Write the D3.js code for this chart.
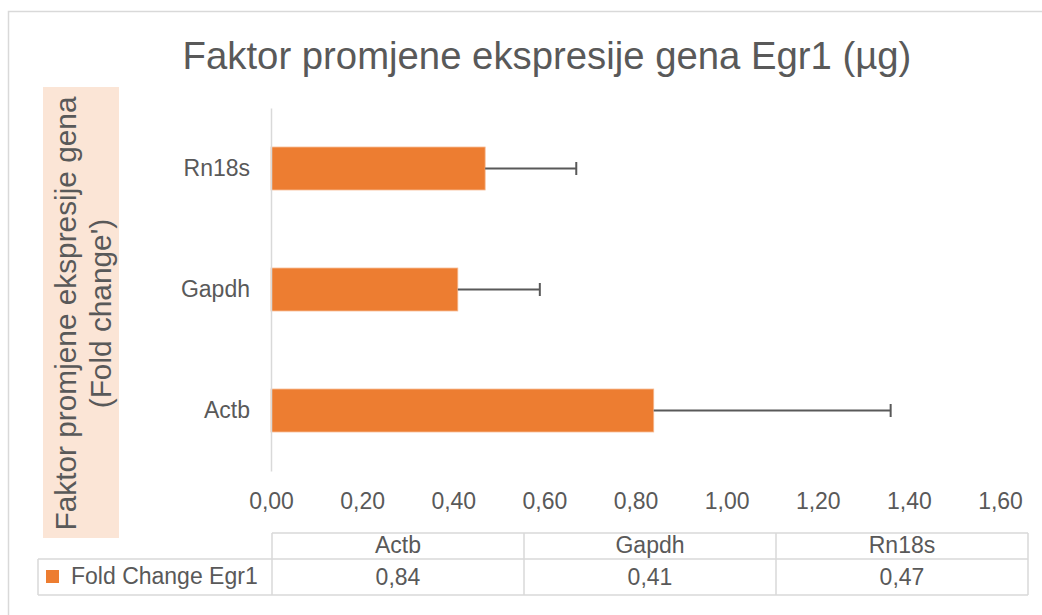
<!DOCTYPE html>
<html>
<head>
<meta charset="utf-8">
<script src="https://cdn.jsdelivr.net/npm/d3@7"></script>
<style>
  body { margin: 0; background: #fff; }
  svg { display: block; font-family: "Liberation Sans", Arial, sans-serif; }
</style>
</head>
<body>
<svg id="chart" width="1042" height="615"></svg>
<script>
// data
const categories = ["Actb", "Gapdh", "Rn18s"];
const foldChange = [0.84, 0.41, 0.47];
const errorPlus = [0.52, 0.18, 0.20];
const xTicks = [0, 0.2, 0.4, 0.6, 0.8, 1.0, 1.2, 1.4, 1.6];
const seriesName = "Fold Change Egr1";
const titleText = "Faktor promjene ekspresije gena Egr1 (µg)";
const yLabelLines = ["Faktor promjene ekspresije gena", "(Fold change')"];

const width = 1042;
const height = 615;
const textColor = "#595959";
const gridColor = "#d9d9d9";
const barColor = "#ed7d31";

const svg = d3.select("#chart");

// outer chart border (right / bottom edges fall outside the view)
svg.append("rect")
  .attr("x", 8.5).attr("y", 11.5)
  .attr("width", 1200).attr("height", 800)
  .attr("fill", "#fff")
  .attr("stroke", gridColor)
  .attr("stroke-width", 1.5);

// title
svg.append("text")
  .attr("x", 547).attr("y", 69)
  .attr("text-anchor", "middle")
  .attr("font-size", 38.3)
  .attr("fill", textColor)
  .text(titleText);

// y axis title box
const yBox = { x: 43, y: 87, w: 76, h: 451 };
svg.append("rect")
  .attr("x", yBox.x).attr("y", yBox.y)
  .attr("width", yBox.w).attr("height", yBox.h)
  .attr("fill", "#fbe5d6");

const yLab = svg.append("text")
  .attr("transform", `translate(${yBox.x + yBox.w / 2 + 2},${yBox.y + yBox.h / 2 + 1}) rotate(-90)`)
  .attr("text-anchor", "middle")
  .attr("font-size", 29.8)
  .attr("fill", textColor);
yLabelLines.forEach((line, i) => {
  yLab.append("tspan")
    .attr("x", 0)
    .attr("y", (i - 0.5) * 35 + 10)
    .text(line);
});

// scales
const x = d3.scaleLinear().domain([0, 1.6]).range([271, 1000]);
const y = d3.scaleBand()
  .domain(categories.slice().reverse())
  .range([108, 471])
  .paddingInner(0.645)
  .paddingOuter(0.3225);

const commaFmt = d3.formatLocale({ decimal: ",", thousands: ".", grouping: [3], currency: ["", ""] }).format(".2f");

// bars
const rows = categories.map((c, i) => ({ cat: c, v: foldChange[i], e: errorPlus[i] }));

svg.append("g")
  .selectAll("rect")
  .data(rows)
  .join("rect")
  .attr("x", x(0))
  .attr("y", d => y(d.cat))
  .attr("width", d => x(d.v) - x(0))
  .attr("height", y.bandwidth())
  .attr("fill", barColor)
  .attr("stroke", "#f6b88f")
  .attr("stroke-width", 0.8);

// error bars (plus direction only)
const err = svg.append("g")
  .attr("stroke", textColor)
  .attr("stroke-width", 2);
err.selectAll("line.stem")
  .data(rows)
  .join("line")
  .attr("class", "stem")
  .attr("x1", d => x(d.v))
  .attr("x2", d => x(d.v + d.e))
  .attr("y1", d => y(d.cat) + y.bandwidth() / 2)
  .attr("y2", d => y(d.cat) + y.bandwidth() / 2);
err.selectAll("line.cap")
  .data(rows)
  .join("line")
  .attr("class", "cap")
  .attr("x1", d => x(d.v + d.e))
  .attr("x2", d => x(d.v + d.e))
  .attr("y1", d => y(d.cat) + y.bandwidth() / 2 - 6.5)
  .attr("y2", d => y(d.cat) + y.bandwidth() / 2 + 6.5);

// vertical category axis
const yAxis = svg.append("g")
  .attr("transform", `translate(${x(0)},0)`)
  .call(d3.axisLeft(y).tickSize(0).tickPadding(21));
yAxis.select(".domain").attr("stroke", gridColor).attr("stroke-width", 1.5);
yAxis.selectAll("text")
  .attr("font-size", 23)
  .attr("font-family", null)
  .attr("fill", textColor);

// value axis labels
const xAxis = svg.append("g")
  .attr("transform", "translate(0,509)")
  .call(d3.axisBottom(x).tickValues(xTicks).tickFormat(commaFmt).tickSize(0));
xAxis.select(".domain").remove();
xAxis.selectAll("text")
  .attr("y", 0).attr("dy", null)
  .attr("font-size", 23)
  .attr("font-family", null)
  .attr("fill", textColor);

// data table
const tableX = d3.scaleBand().domain(categories).range([272, 1028]);
const tTop = 533, tMid = 559, tBot = 595, legendLeft = 38;
const tbl = svg.append("g")
  .attr("stroke", gridColor)
  .attr("stroke-width", 1.5);
tbl.append("line").attr("x1", 272).attr("x2", 1028).attr("y1", tTop).attr("y2", tTop);
tbl.append("line").attr("x1", legendLeft).attr("x2", 1028).attr("y1", tMid).attr("y2", tMid);
tbl.append("line").attr("x1", legendLeft).attr("x2", 1028).attr("y1", tBot).attr("y2", tBot);
tbl.append("line").attr("x1", legendLeft).attr("x2", legendLeft).attr("y1", tMid).attr("y2", tBot);
tbl.selectAll("line.col")
  .data(categories.concat(["end"]))
  .join("line")
  .attr("class", "col")
  .attr("x1", (d, i) => i < categories.length ? tableX(d) : tableX.range()[1])
  .attr("x2", (d, i) => i < categories.length ? tableX(d) : tableX.range()[1])
  .attr("y1", tTop).attr("y2", tBot);

svg.append("g")
  .selectAll("text")
  .data(categories)
  .join("text")
  .attr("x", d => tableX(d) + tableX.bandwidth() / 2)
  .attr("y", 553)
  .attr("text-anchor", "middle")
  .attr("font-size", 23)
  .attr("fill", textColor)
  .text(d => d);

svg.append("g")
  .selectAll("text")
  .data(rows)
  .join("text")
  .attr("x", d => tableX(d.cat) + tableX.bandwidth() / 2)
  .attr("y", 585)
  .attr("text-anchor", "middle")
  .attr("font-size", 23)
  .attr("fill", textColor)
  .text(d => commaFmt(d.v));

// legend key in table
svg.append("rect")
  .attr("x", 46).attr("y", 570)
  .attr("width", 13).attr("height", 13)
  .attr("fill", barColor);
svg.append("text")
  .attr("x", 71).attr("y", 584)
  .attr("font-size", 23)
  .attr("fill", textColor)
  .text(seriesName);
</script>
</body>
</html>
